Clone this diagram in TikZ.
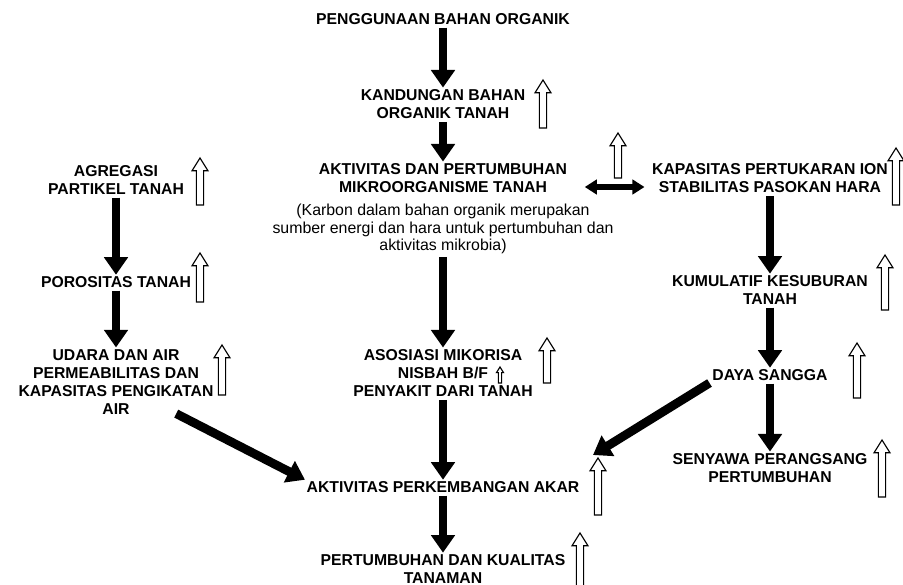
\documentclass[tikz,border=0pt]{standalone}
\usepackage{fontspec}
\setmainfont{Liberation Sans}
\usepackage{tikz}
\usetikzlibrary{calc,arrows.meta,positioning}

\tikzset{
	judul/.style={font=\fontsize{11.2}{13}\selectfont\bfseries, align=center, inner sep=1pt},
	ket/.style={font=\fontsize{11.3}{12.4}\selectfont, align=center, inner sep=1pt},
	tebal/.style={line width=0.22cm, -{Triangle[width=0.58cm,length=0.44cm]}, shorten <=1pt},
	dua/.style={line width=0.13cm, {Triangle[width=0.36cm,length=0.3cm]}-{Triangle[width=0.36cm,length=0.3cm]}}
}

% hollow up arrow: x, top, bottom, half width of the head
\newcommand{\naik}[4]{%
	\draw[line width=0.8pt, fill=white] (#1-0.45*#4,#3) -- (#1-0.45*#4,#2+1.6*#4) -- (#1-#4,#2+1.6*#4) -- (#1,#2) -- (#1+#4,#2+1.6*#4) -- (#1+0.45*#4,#2+1.6*#4) -- (#1+0.45*#4,#3) -- cycle;}

\begin{document}
\begin{tikzpicture}[x=0.025cm,y=-0.025cm]
		
		\fill[white] (0,0) rectangle (903,585);
		\clip (0,0) rectangle (903,585);
		
		% centre column
		\node[judul] (guna) at (443,19) {PENGGUNAAN BAHAN ORGANIK};
		\node[judul] (kandungan) at (443,104) {KANDUNGAN BAHAN\\ORGANIK TANAH};
		\node[judul] (mikro) at (443,178) {AKTIVITAS DAN PERTUMBUHAN\\MIKROORGANISME TANAH};
		\node[ket] (karbon) at (443,229) {(Karbon dalam bahan organik merupakan\\sumber energi dan hara untuk pertumbuhan dan\\aktivitas mikrobia)};
		\node[judul] (mikoriza) at (443,373) {ASOSIASI MIKORISA\\NISBAH B/F\\PENYAKIT DARI TANAH};
		\node[judul] (akar) at (443,487) {AKTIVITAS PERKEMBANGAN AKAR};
		\node[judul] (tanaman) at (443,569) {PERTUMBUHAN DAN KUALITAS\\TANAMAN};
		
		% left column
		\node[judul] (agregasi) at (116,180) {AGREGASI\\PARTIKEL TANAH};
		\node[judul] (porositas) at (116,282) {POROSITAS TANAH};
		\node[judul] (udara) at (116,382) {UDARA DAN AIR\\PERMEABILITAS DAN\\KAPASITAS PENGIKATAN\\AIR};
		
		% right column
		\node[judul] (kapasitas) at (770,178) {KAPASITAS PERTUKARAN ION\\STABILITAS PASOKAN HARA};
		\node[judul] (kumulatif) at (770,290) {KUMULATIF KESUBURAN\\TANAH};
		\node[judul] (sangga) at (770,375) {DAYA SANGGA};
		\node[judul] (senyawa) at (770,468) {SENYAWA PERANGSANG\\PERTUMBUHAN};
		
		\coordinate (kiri) at (175,413);
		\coordinate (ujung) at (593,455);
		
		\draw[tebal] (guna) -- (kandungan);
		\draw[tebal] (kandungan) -- (mikro);
		\draw[tebal] (karbon) -- (mikoriza);
		\draw[tebal] (mikoriza) -- (akar);
		\draw[tebal] (akar) -- (tanaman);
		
		\draw[tebal] (agregasi) -- (porositas);
		\draw[tebal] (porositas) -- (udara);
		\draw[tebal] (kiri) -- (akar.north west);
		
		\draw[tebal] (kapasitas) -- (kumulatif);
		\draw[tebal] (kumulatif) -- (sangga);
		\draw[tebal] (sangga) -- (senyawa);
		\draw[tebal] (sangga.south west) -- (ujung);
		
		\draw[dua] ($(mikro.east)+(16,9)$) -- ($(kapasitas.west)+(-6,9)$);
		
		\naik{543}{80}{128}{8}
		\naik{618}{133}{178}{8}
		\naik{896}{148}{205}{8}
		\naik{885}{255}{310}{8}
		\naik{857}{343}{398}{8}
		\naik{882}{440}{497}{8}
		\naik{598}{458}{515}{8}
		\naik{580}{533}{600}{8}
		\naik{547}{338}{383}{8}
		\naik{500}{367}{383}{3.5}
		\naik{200}{158}{205}{8}
		\naik{200}{253}{302}{8}
		\naik{222}{345}{395}{8}
		
	\end{tikzpicture}
\end{document}
